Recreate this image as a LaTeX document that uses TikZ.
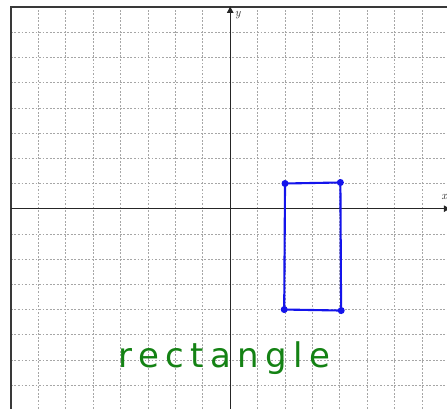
\documentclass[tikz,border=0pt]{standalone}
\usepackage{fontspec}
\usepackage{xcolor}
\usepackage{tikz}
\usetikzlibrary{arrows.meta,positioning}

\definecolor{penblue}{RGB}{20,20,235}
\definecolor{pengreen}{RGB}{20,130,20}
\newfontfamily\handfont[LetterSpace=19]{DejaVu Sans}

\begin{document}
\begin{tikzpicture}[
  >={Latex[length=6pt, width=6pt]},
  x=0.822cm, y=0.756cm,
  every node/.style={font=\small},
  gridline/.style={gray!70, line width=0.6pt, dash pattern=on 1.6pt off 1.4pt},
  frameline/.style={gray!45!black, line width=1.6pt},
  axisline/.style={gray!30!black, line width=0.7pt},
  axislabel/.style={font=\normalsize\itshape, text=gray!40!black, inner sep=1pt},
  penline/.style={penblue, line width=1.8pt, line join=round, line cap=round},
  pendot/.style={circle, fill=penblue, inner sep=0pt, minimum size=6pt},
  handtext/.style={font=\fontsize{29}{29}\selectfont\handfont, text=pengreen, inner sep=0pt},
]
% Page size
\useasboundingbox (-8.40,-7.91) rectangle (7.91,8.28);
\clip (-8.40,-7.91) rectangle (7.91,8.28);

% Grid and frame
\draw[gridline, xstep=0.822cm, ystep=0.756cm] (-8,-8.5) grid (8.5,8);
\draw[frameline] (-8,-8.5) rectangle (8.5,8);

% Axes
\coordinate (xstart) at (-8,0);
\coordinate (xend) at (8.05,0);
\coordinate (ystart) at (0,-8.5);
\coordinate (yend) at (0,8.05);
\draw[axisline, ->] (xstart) -- (xend);
\draw[axisline, ->] (ystart) -- (yend);
\node[axislabel, anchor=west] (ylab) at (0.12,7.7) {y};
\node[axislabel, anchor=south] (xlab) at (7.8,0.3) {x};

% Rectangle corners
\node[pendot] (tl) at (2,1) {};
\node[pendot] (tr) at (4.02,1.04) {};
\node[pendot] (br) at (4.05,-4.04) {};
\node[pendot] (bl) at (1.97,-4) {};
\draw[penline] (tl.center) -- (tr.center) -- (4.04,-3) -- (br.center) -- (bl.center) -- cycle;

% Label
\node[handtext, anchor=base] (name) at (-0.2,-6.3) {rectangle};
\end{tikzpicture}
\end{document}
